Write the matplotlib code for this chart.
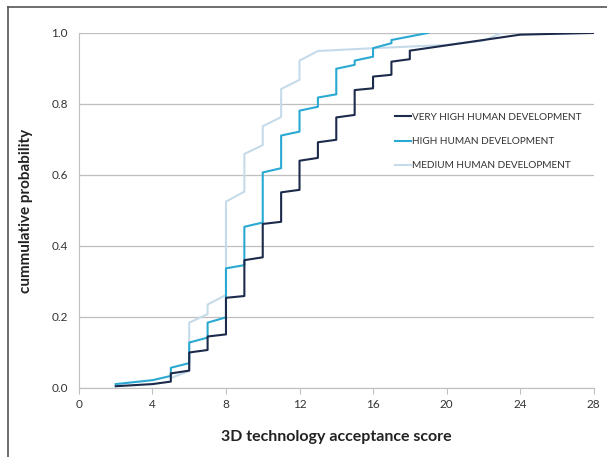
import matplotlib.pyplot as plt
from matplotlib.lines import Line2D

plt.rcParams['font.family'] = ['Lato', 'DejaVu Sans']

# curvas acumuladas (x repetido = salto vertical)
x_very_high = [2, 4, 5, 5, 6, 6, 7, 7, 8, 8, 9, 9, 10, 10, 11, 11, 12, 12,
               13, 13, 14, 14, 15, 15, 16, 16, 17, 17, 18, 18, 20, 22, 24, 28]
y_very_high = [0.005, 0.011, 0.018, 0.041, 0.049, 0.100, 0.107, 0.145, 0.151,
               0.254, 0.259, 0.360, 0.368, 0.462, 0.468, 0.551, 0.558, 0.640,
               0.648, 0.692, 0.699, 0.762, 0.769, 0.839, 0.844, 0.877, 0.882,
               0.919, 0.926, 0.950, 0.965, 0.980, 0.995, 1.0]

x_high = [2, 4, 5, 5, 6, 6, 7, 7, 8, 8, 9, 9, 10, 10, 11, 11, 12, 12,
          13, 13, 14, 14, 15, 15, 16, 16, 17, 17, 19]
y_high = [0.011, 0.022, 0.034, 0.057, 0.070, 0.128, 0.142, 0.184, 0.199,
          0.337, 0.346, 0.454, 0.466, 0.607, 0.619, 0.711, 0.722, 0.781,
          0.792, 0.818, 0.827, 0.899, 0.910, 0.922, 0.933, 0.957, 0.971,
          0.980, 1.0]

x_medium = [5, 6, 6, 7, 7, 8, 8, 9, 9, 10, 10, 11, 11, 12, 12, 13, 16, 20, 22, 23]
y_medium = [0.028, 0.048, 0.184, 0.208, 0.235, 0.262, 0.525, 0.553, 0.659,
            0.684, 0.737, 0.763, 0.842, 0.868, 0.922, 0.949, 0.957, 0.966,
            0.978, 1.0]

labels = ['VERY HIGH HUMAN DEVELOPMENT', 'HIGH HUMAN DEVELOPMENT',
          'MEDIUM HUMAN DEVELOPMENT']
colores = ['#1c2b4c', '#2aa9d2', '#c6dbea']

x_ticks = [0, 4, 8, 12, 16, 20, 24, 28]
y_ticks = [0.0, 0.2, 0.4, 0.6, 0.8, 1.0]

fig = plt.figure(figsize=(6.07, 4.57), dpi=100)
ax = fig.add_axes([0.130, 0.151, 0.848, 0.777])

ax.plot(x_medium, y_medium, color=colores[2], lw=1.5, label=labels[2], zorder=3)
ax.plot(x_high, y_high, color=colores[1], lw=1.5, label=labels[1], zorder=4)
ax.plot(x_very_high, y_very_high, color=colores[0], lw=1.5, label=labels[0], zorder=5)

ax.set_xlim(0, 28)
ax.set_ylim(0, 1.0)
ax.set_xticks(x_ticks)
ax.set_yticks(y_ticks)
ax.set_yticklabels([f'{v:.1f}' for v in y_ticks])
ax.grid(axis='y', color='#bfbfbf', lw=0.9)
ax.set_axisbelow(True)

for s in ['top', 'right']:
    ax.spines[s].set_visible(False)
ax.spines['left'].set_color('#bfbfbf')
ax.spines['bottom'].set_color('#bfbfbf')
ax.tick_params(axis='x', length=4, color='#bfbfbf', labelsize=8.5,
               labelcolor='#333333', pad=4)
ax.tick_params(axis='y', length=0, labelsize=8.5, labelcolor='#333333', pad=8)

ax.set_xlabel('3D technology acceptance score', fontsize=11.5, fontweight='bold',
              color='#222222', labelpad=14)
ax.set_ylabel('cummulative probability', fontsize=11, fontweight='bold',
              color='#222222', labelpad=13)

handles = [Line2D([], [], color=c, lw=1.5) for c in colores]
ax.legend(handles, labels, loc='upper left', bbox_to_anchor=(0.596, 0.80),
          frameon=False, fontsize=7.2, handlelength=1.6, handletextpad=0.1,
          labelspacing=1.52, labelcolor='#333333')

# marco de la figura
fig.add_artist(Line2D([8 / 607, 8 / 607], [0, 1 - 7 / 457], color='#555555',
                      lw=1.2, transform=fig.transFigure))
fig.add_artist(Line2D([8 / 607, 1], [1 - 7 / 457, 1 - 7 / 457], color='#555555',
                      lw=1.2, transform=fig.transFigure))

fig.savefig('out.png', dpi=100)
